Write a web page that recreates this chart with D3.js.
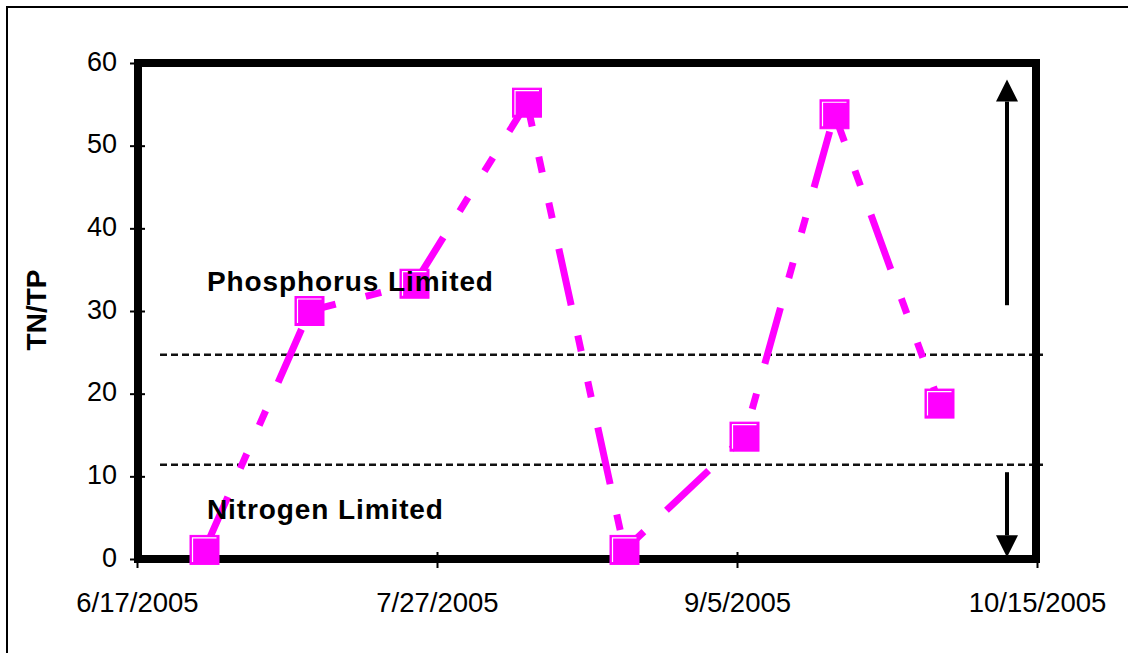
<!DOCTYPE html>
<html><head><meta charset="utf-8">
<script src="https://cdn.jsdelivr.net/npm/d3@7"></script>
<style>
html,body{margin:0;padding:0;background:#fff;}
svg{display:block;font-family:"Liberation Sans",Arial,sans-serif;}
</style></head>
<body>
<svg id="chart" width="1128" height="653"></svg>
<script>
// ---- data ----
const sampleDates = ["2005-06-26","2005-07-10","2005-07-24","2005-08-08","2005-08-21","2005-09-06","2005-09-18","2005-10-02"];
const tnTpRatio = [1.1, 30.0, 33.3, 55.2, 1.1, 14.8, 53.8, 18.8];
const yTickValues = [0, 10, 20, 30, 40, 50, 60];
const xTickDates = ["2005-06-17","2005-07-27","2005-09-05","2005-10-15"];
const xTickLabels = ["6/17/2005","7/27/2005","9/5/2005","10/15/2005"];
const thresholdLines = [24.7, 11.4];
const regionLabels = ["Phosphorus Limited", "Nitrogen Limited"];
const regionLabelValues = [32.4, 4.8];
const upArrow = [30.7, 58.0];
const downArrow = [10.5, 0.2];
const arrowDate = "2005-10-11";

const parse = s => { const [a,b,c] = s.split("-").map(Number); return new Date(Date.UTC(a,b-1,c)); };

const svg = d3.select("#chart");
const x = d3.scaleUtc().domain([parse("2005-06-17"), parse("2005-10-15")]).range([137, 1037]);
const y = d3.scaleLinear().domain([0, 60]).range([559, 63]);

// outer border
svg.append("rect").attr("x", 7).attr("y", 7).attr("width", 1140).attr("height", 680)
  .attr("fill", "none").attr("stroke", "#000").attr("stroke-width", 2);

// threshold dashed lines
svg.selectAll("line.thr").data(thresholdLines).join("line").attr("class","thr")
  .attr("x1", 160).attr("x2", 1043)
  .attr("y1", d => y(d)).attr("y2", d => y(d))
  .attr("stroke", "#111").attr("stroke-width", 2.5).attr("stroke-dasharray", "7 4");

// frame
svg.append("rect").attr("x", x.range()[0] + 1).attr("y", y(60))
  .attr("width", x.range()[1] - x.range()[0] - 2).attr("height", y(0) - y(60))
  .attr("fill", "none").attr("stroke", "#000").attr("stroke-width", 8);

// y axis
const yAxis = svg.append("g").attr("transform", `translate(${x.range()[0]},0)`)
  .call(d3.axisLeft(y).tickValues(yTickValues).tickSize(7).tickPadding(13));
yAxis.select(".domain").remove();
yAxis.selectAll(".tick line").attr("x1", 8).attr("x2", -7).attr("stroke-width", 2);
yAxis.selectAll(".tick text").attr("font-size", 27).attr("font-family", "Liberation Sans, Arial, sans-serif")
  .attr("fill", "#000").attr("dy", "0.27em");

// x axis
const xAxis = svg.append("g").attr("transform", `translate(0,${y(0)})`)
  .call(d3.axisBottom(x).tickValues(xTickDates.map(parse)).tickFormat((d,i) => xTickLabels[i]).tickSize(8));
xAxis.select(".domain").remove();
xAxis.selectAll(".tick line").attr("y1", -7).attr("y2", 9).attr("stroke-width", 2);
xAxis.selectAll(".tick text").attr("font-size", 27.5).attr("font-family", "Liberation Sans, Arial, sans-serif")
  .attr("fill", "#000").attr("y", 53).attr("dy", 0);

// y title
svg.append("text").attr("transform", "translate(46,310) rotate(-90)")
  .attr("text-anchor", "middle").attr("font-size", 28).attr("font-weight", "bold").text("TN/TP");

// series
const pts = sampleDates.map((d,i) => [x(parse(d)), y(tnTpRatio[i])]);
svg.append("path").attr("d", d3.line()(pts)).attr("fill", "none")
  .attr("stroke", "#FF00FF").attr("stroke-width", 7)
  .attr("stroke-dasharray", "58 31 16 31 16 31").attr("stroke-linecap", "butt");

const ms = 29;
const mk = svg.selectAll("g.mk").data(pts).join("g").attr("class","mk")
  .attr("transform", d => `translate(${d[0]},${d[1]})`);
mk.append("rect").attr("x", -ms/2).attr("y", -ms/2).attr("width", ms).attr("height", ms)
  .attr("fill", "#FF00FF").attr("stroke", "#FF00FF").attr("stroke-width", 1);
mk.append("polyline")
  .attr("points", `${-ms/2+2.5},${ms/2-2.5} ${-ms/2+2.5},${-ms/2+2.5} ${ms/2-2.5},${-ms/2+2.5}`)
  .attr("fill", "none").attr("stroke", "#fff").attr("stroke-width", 1.2);

// arrows
const ax = x(parse(arrowDate));
function arrow(from, to) {
  const y0 = y(from), y1 = y(to);
  const dir = y1 < y0 ? 1 : -1;
  const headLen = 22, hw = 11;
  svg.append("line").attr("x1", ax).attr("x2", ax).attr("y1", y0).attr("y2", y1 + dir * headLen)
    .attr("stroke", "#000").attr("stroke-width", 4);
  svg.append("path").attr("d", `M${ax},${y1} L${ax-hw},${y1+dir*headLen} L${ax+hw},${y1+dir*headLen} Z`)
    .attr("fill", "#000");
}
arrow(upArrow[0], upArrow[1]);
arrow(downArrow[0], downArrow[1]);

// region labels
svg.selectAll("text.reg").data(regionLabels).join("text").attr("class","reg")
  .attr("x", 207).attr("y", (d,i) => y(regionLabelValues[i]))
  .attr("font-size", 28).attr("font-weight", "bold").attr("letter-spacing", 0.9).attr("fill", "#000")
  .text(d => d);
</script>
</body></html>
